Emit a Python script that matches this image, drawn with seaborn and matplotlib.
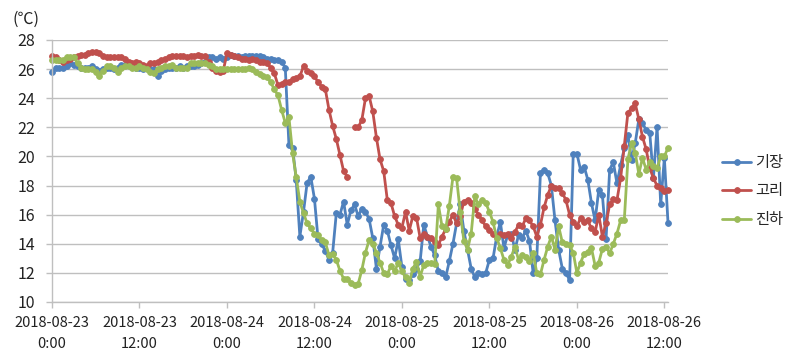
import matplotlib
matplotlib.use("agg")
import matplotlib.pyplot as plt
import numpy as np
import pandas as pd
import seaborn as sns

# readings every 30 minutes from 2018-08-23 00:00
startTime = '2018-08-23 00:00'
siteNames = ['기장', '고리', '진하']
siteColors = ['#4F81BD', '#C0504D', '#9BBB59']

gijang = [
    25.8, 26.1, 26.1, 26.1, 26.2, 26.4, 26.3, 26.2, 26.1, 26.1,
    26.1, 26.2, 26.0, 25.9, 26.0, 26.1, 26.1, 26.0, 26.1, 26.3,
    26.3, 26.4, 26.2, 26.1, 26.1, 26.0, 26.1, 26.0, 26.0, 25.5,
    25.9, 26.0, 26.1, 26.1, 26.1, 26.2, 26.1, 26.2, 26.2, 26.2,
    26.3, 26.4, 26.5, 26.8, 26.8, 26.7, 26.8, 26.7, 26.8, 27.0,
    26.9, 26.9, 26.8, 26.9, 26.9, 26.9, 26.9, 26.9, 26.8, 26.7,
    26.7, 26.6, 26.6, 26.5, 26.1, 20.8, 20.6, 18.4, 14.5, 16.2,
    18.2, 18.6, 17.1, 14.3, 14.0, 13.5, 12.9, 13.4, 16.1, 16.0,
    16.9, 15.3, 16.3, 16.7, 15.9, 16.4, 16.2, 15.7, 14.4, 12.3,
    13.8, 15.3, 14.9, 13.9, 13.0, 14.3, 12.4, 11.6, 11.5, 11.9,
    12.3, 12.8, 15.3, 14.5, 13.8, 13.2, 12.1, 12.0, 11.7, 12.8,
    14.0, 15.4, 16.7, 14.9, 13.6, 12.3, 11.7, 12.0, 11.9, 12.0,
    12.9, 13.0, 14.5, 15.5, 13.7, 14.6, 14.7, 13.6, 14.6, 14.4,
    14.9, 14.2, 12.0, 13.0, 18.85, 19.1, 18.85, 18.0, 15.6, 13.6,
    12.3, 12.0, 11.5, 20.2, 20.2, 19.1, 19.3, 18.4, 16.8, 15.6,
    17.7, 17.35, 14.3, 19.1, 19.6, 18.15, 19.4, 20.55, 21.5, 19.75,
    20.9, 22.55, 22.3, 21.8, 21.6, 18.5, 22.05, 16.7, 19.9, 15.45,
]

gori = [
    26.9, 26.8, 26.6, 26.5, 26.6, 26.7, 26.8, 26.9, 27.0, 27.0,
    27.1, 27.2, 27.2, 27.1, 26.9, 26.8, 26.8, 26.8, 26.8, 26.8,
    26.7, 26.5, 26.4, 26.5, 26.4, 26.3, 26.2, 26.4, 26.4, 26.5,
    26.6, 26.7, 26.8, 26.9, 26.9, 26.9, 26.9, 26.8, 26.9, 26.9,
    27.0, 26.9, 26.9, 26.5, 26.1, 25.9, 25.8, 25.9, 27.1, 27.0,
    26.9, 26.8, 26.7, 26.7, 26.6, 26.7, 26.6, 26.5, 26.5, 26.4,
    26.1, 25.7, 24.9, 25.0, 25.1, 25.1, 25.3, 25.4, 25.5, 26.2,
    25.9, 25.7, 25.5, 25.1, 24.8, 24.6, 23.2, 22.1, 21.2, 20.1,
    19.0, 18.6, np.nan, 22.0, 22.0, 22.5, 24.0, 24.15, 23.1, 21.3,
    19.8, 19.0, 17.0, 16.8, 15.9, 15.3, 15.1, 16.2, 14.9, 15.9,
    15.8, 14.4, 14.7, 14.5, 14.4, 14.1, 13.9, 14.5, 15.0, 15.5,
    16.0, 15.4, 15.9, 16.9, 17.0, 16.8, 16.4, 16.0, 15.6, 15.2,
    14.95, 14.7, 14.5, 14.7, 14.6, 14.7, 14.4, 14.8, 15.3, 15.2,
    15.75, 15.6, 15.2, 14.5, 15.3, 16.5, 17.35, 18.0, 17.8, 17.8,
    17.5, 17.0, 16.0, 15.5, 15.2, 15.75, 15.5, 15.6, 15.05, 14.8,
    16.0, 14.5, 15.4, 16.7, 17.05, 17.0, 18.5, 20.7, 23.0, 23.3,
    23.65, 22.55, 21.35, 20.5, 19.2, 18.5, 18.0, 17.8, 17.6, 17.7,
]

jinha = [
    26.6, 26.6, 26.6, 26.6, 26.8, 26.8, 26.8, 26.4, 26.1, 26.0,
    26.0, 26.0, 25.8, 25.5, 25.9, 26.2, 26.2, 26.1, 25.8, 26.1,
    26.2, 26.2, 26.1, 26.1, 26.2, 26.1, 26.0, 25.8, 25.7, 26.0,
    26.1, 26.2, 26.2, 26.3, 26.1, 26.1, 26.1, 26.1, 26.4, 26.4,
    26.4, 26.4, 26.4, 26.3, 26.2, 26.0, 26.0, 26.0, 26.0, 26.0,
    26.0, 26.0, 26.0, 26.0, 26.1, 26.0, 25.8, 25.65, 25.5, 25.45,
    25.1, 24.6, 24.2, 23.2, 22.3, 22.7, 20.25, 18.6, 16.9, 16.1,
    15.4, 15.05, 14.7, 14.6, 14.25, 14.1, 13.2, 13.3, 12.9, 12.15,
    11.6, 11.6, 11.3, 11.15, 11.25, 12.2, 13.4, 14.25, 14.0, 13.4,
    12.7, 12.0, 11.9, 12.5, 12.1, 12.7, 12.1, 11.7, 11.3, 12.3,
    12.75, 11.75, 12.55, 12.65, 12.65, 12.6, 16.7, 15.2, 15.0, 16.6,
    18.6, 18.5, 16.2, 14.2, 13.6, 14.7, 17.25, 16.7, 17.0, 16.8,
    16.2, 15.5, 14.4, 13.7, 12.9, 12.55, 13.1, 13.8, 12.9, 13.25,
    13.1, 12.8, 13.35, 12.0, 11.9, 12.9, 13.8, 14.5, 13.6, 15.2,
    14.1, 14.0, 13.9, 13.4, 12.0, 12.7, 13.3, 13.45, 13.7, 12.5,
    12.7, 13.65, 13.8, 13.35, 14.0, 14.7, 15.6, 15.6, 19.8, 20.95,
    20.25, 18.8, 19.9, 19.1, 19.6, 19.35, 19.2, 20.0, 20.0, 20.6,
]

yTicks = [10, 12, 14, 16, 18, 20, 22, 24, 26, 28]

sns.set_style("white")
plt.rcParams['font.family'] = ['Noto Sans CJK KR', 'DejaVu Sans']

times = pd.date_range(startTime, periods=len(gijang), freq='30min')
frame = pd.DataFrame({'time': times, '기장': gijang, '고리': gori, '진하': jinha})

fig = plt.figure(figsize=(7.99, 3.6), dpi=100)
ax = fig.add_axes([52 / 799, 58 / 360, 616 / 799, 262 / 360])

for name, color in zip(siteNames, siteColors):
    values = frame[name]
    # break the line where a reading is missing
    segId = values.isna().cumsum()
    first = True
    for _, seg in frame[values.notna()].groupby(segId[values.notna()]):
        sns.lineplot(x=seg['time'], y=seg[name], ax=ax, color=color,
                     marker='o', markersize=4.2, markeredgewidth=0.6,
                     markeredgecolor=color, linewidth=2.0,
                     label=name if first else None, legend=False,
                     estimator=None, sort=False, clip_on=False)
        first = False

gridColor = '#BFBFBF'
ax.set_ylim(10, 28)
ax.set_yticks(yTicks)
ax.set_xlim(times[0], times[-1])
xTicks = pd.date_range(startTime, periods=8, freq='12h')
ax.set_xticks(xTicks)
ax.set_xticklabels(['{:%Y-%m-%d}\n{}:{:%M}'.format(t, t.hour, t) for t in xTicks],
                   linespacing=1.65, multialignment='center')
ax.set_xlabel('')
ax.set_ylabel('')
ax.grid(axis='y', color=gridColor, linewidth=1)
ax.grid(axis='x', visible=False)
for side in ['top', 'right']:
    ax.spines[side].set_visible(False)
for side in ['left', 'bottom']:
    ax.spines[side].set_color(gridColor)
    ax.spines[side].set_linewidth(1)
ax.tick_params(axis='x', bottom=True, length=4, width=1, color=gridColor,
               labelsize=10.5, pad=6, labelcolor='#222222')
ax.tick_params(axis='y', left=True, length=4, width=1, color=gridColor,
               labelsize=11.5, pad=8, labelcolor='#222222')

fig.text(13 / 799, 1 - 19 / 360, '(℃)', fontsize=11.5, va='center', ha='left',
         color='#222222')

ax.legend(loc='center left', bbox_to_anchor=(722 / 799, 1 - 191 / 360),
          bbox_transform=fig.transFigure, frameon=False, fontsize=11,
          handlelength=1.9, handletextpad=0.25, labelspacing=0.75,
          borderpad=0, borderaxespad=0)

fig.savefig('out.png', dpi=100)
